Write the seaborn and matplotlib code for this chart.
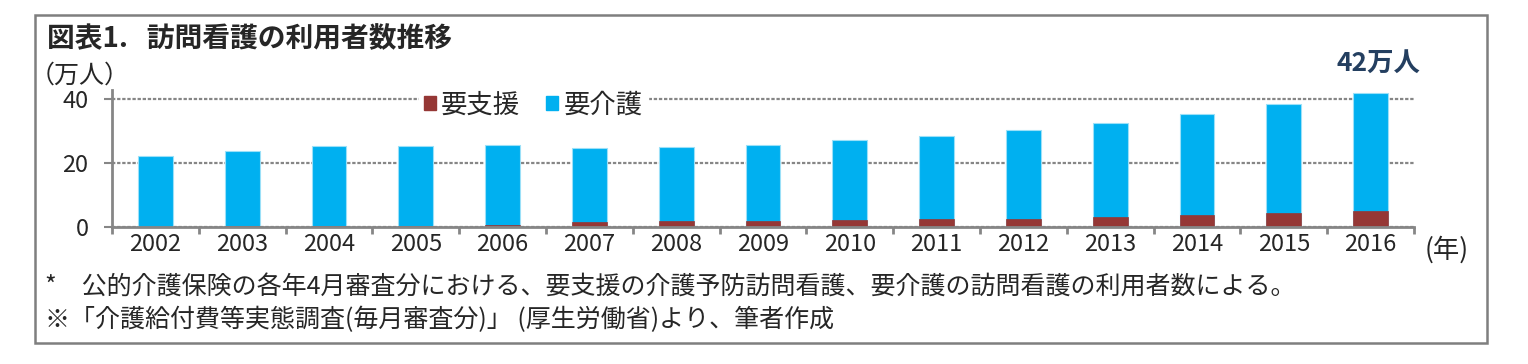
import numpy as np
import pandas as pd
import matplotlib
matplotlib.use('Agg')
import matplotlib.pyplot as plt
import seaborn as sns
from matplotlib.patches import Rectangle, Patch

# ---- data ----
years = ['2002', '2003', '2004', '2005', '2006', '2007', '2008', '2009',
         '2010', '2011', '2012', '2013', '2014', '2015', '2016']
support = [0.1, 0.3, 0.4, 0.5, 0.6, 1.7, 2.0, 2.1, 2.3, 2.5, 2.7, 3.1, 3.75, 4.4, 5.0]   # 要支援
care = [22.1, 23.6, 25.0, 25.0, 25.0, 23.2, 23.2, 23.7, 24.9, 25.9, 27.6, 29.6, 31.65, 34.2, 37.1]  # 要介護
series_labels = ['要支援', '要介護']
yticks = [0, 20, 40]

title = '図表1.   訪問看護の利用者数推移'
unit_label = '（万人）'
year_label = '(年)'
annot = '42万人'
note1 = '*　公的介護保険の各年4月審査分における、要支援の介護予防訪問看護、要介護の訪問看護の利用者数による。'
note2 = '※「介護給付費等実態調査(毎月審査分)」 (厚生労働省)より、筆者作成'

RED = '#953735'
BLUE = '#00B0F0'
GRAY = '#868686'

df = pd.DataFrame({'year': years, 'support': support, 'care': care})
df['total'] = df['support'] + df['care']

sns.set_style('white')
plt.rcParams['font.family'] = ['Noto Sans CJK JP', 'DejaVu Sans']

fig = plt.figure(figsize=(15.28, 3.64), dpi=100)
fig.patch.set_facecolor('white')
ax = fig.add_axes([0.0733, 0.3755, 0.8521, 0.378])

sns.barplot(data=df, x='year', y='total', color=BLUE, saturation=1, width=0.4,
            edgecolor='#9BE0F8', linewidth=0.8, ax=ax, zorder=3)
sns.barplot(data=df, x='year', y='support', color=RED, saturation=1, width=0.4,
            edgecolor=RED, linewidth=0.5, ax=ax, zorder=4)

ax.set_xlim(-0.5, len(years) - 0.5)
ax.set_ylim(0, 43)
ax.set_yticks(yticks)
ax.set_xlabel('')
ax.set_ylabel('')

ax.set_axisbelow(True)
ax.yaxis.grid(True, linestyle=(0, (1.5, 0.8)), color=GRAY, linewidth=1.6)
ax.xaxis.grid(False)

for s in ['top', 'right']:
    ax.spines[s].set_visible(False)
for s in ['left', 'bottom']:
    ax.spines[s].set_color(GRAY)
    ax.spines[s].set_linewidth(2)
ax.spines['bottom'].set_zorder(6)

ax.tick_params(axis='y', which='major', length=6, width=1.5, color=GRAY,
               direction='out', pad=11, labelsize=17, left=True)
ax.tick_params(axis='x', which='major', length=0, pad=4, labelsize=17)
ax.set_xticks(np.arange(-0.5, len(years), 1.0), minor=True)
ax.tick_params(axis='x', which='minor', length=5, width=2, color=GRAY,
               direction='out', bottom=True)

handles = [Patch(facecolor=RED, edgecolor=RED), Patch(facecolor=BLUE, edgecolor=BLUE)]
leg = ax.legend(handles, series_labels, loc='center', bbox_to_anchor=(0.349, 0.7115),
                bbox_transform=fig.transFigure, ncol=2, fontsize=19, frameon=True,
                fancybox=False, handlelength=0.45, handleheight=0.45,
                handletextpad=0.2, columnspacing=1.0, borderpad=0.2)
leg.get_frame().set_facecolor('white')
leg.get_frame().set_edgecolor('white')
leg.get_frame().set_alpha(1)
leg.set_zorder(10)

fig.text(0.0308, 0.8915, title, fontsize=20, fontweight='bold', va='center', ha='left')
fig.text(0.0192, 0.791, unit_label, fontsize=18, va='center', ha='left')
fig.text(0.902, 0.827, annot, fontsize=19, fontweight='bold', color='#243F60',
         va='center', ha='center')
fig.text(0.9326, 0.313, year_label, fontsize=19, va='center', ha='left')
fig.text(0.0295, 0.209, note1, fontsize=18, va='center', ha='left')
fig.text(0.0295, 0.121, note2, fontsize=18, va='center', ha='left')

fig.patches.append(Rectangle((0.0229, 0.0577), 0.950, 0.901, transform=fig.transFigure,
                             fill=False, edgecolor='#7F7F7F', linewidth=1.8, zorder=0))

fig.savefig('out.png', dpi=100, facecolor='white')
